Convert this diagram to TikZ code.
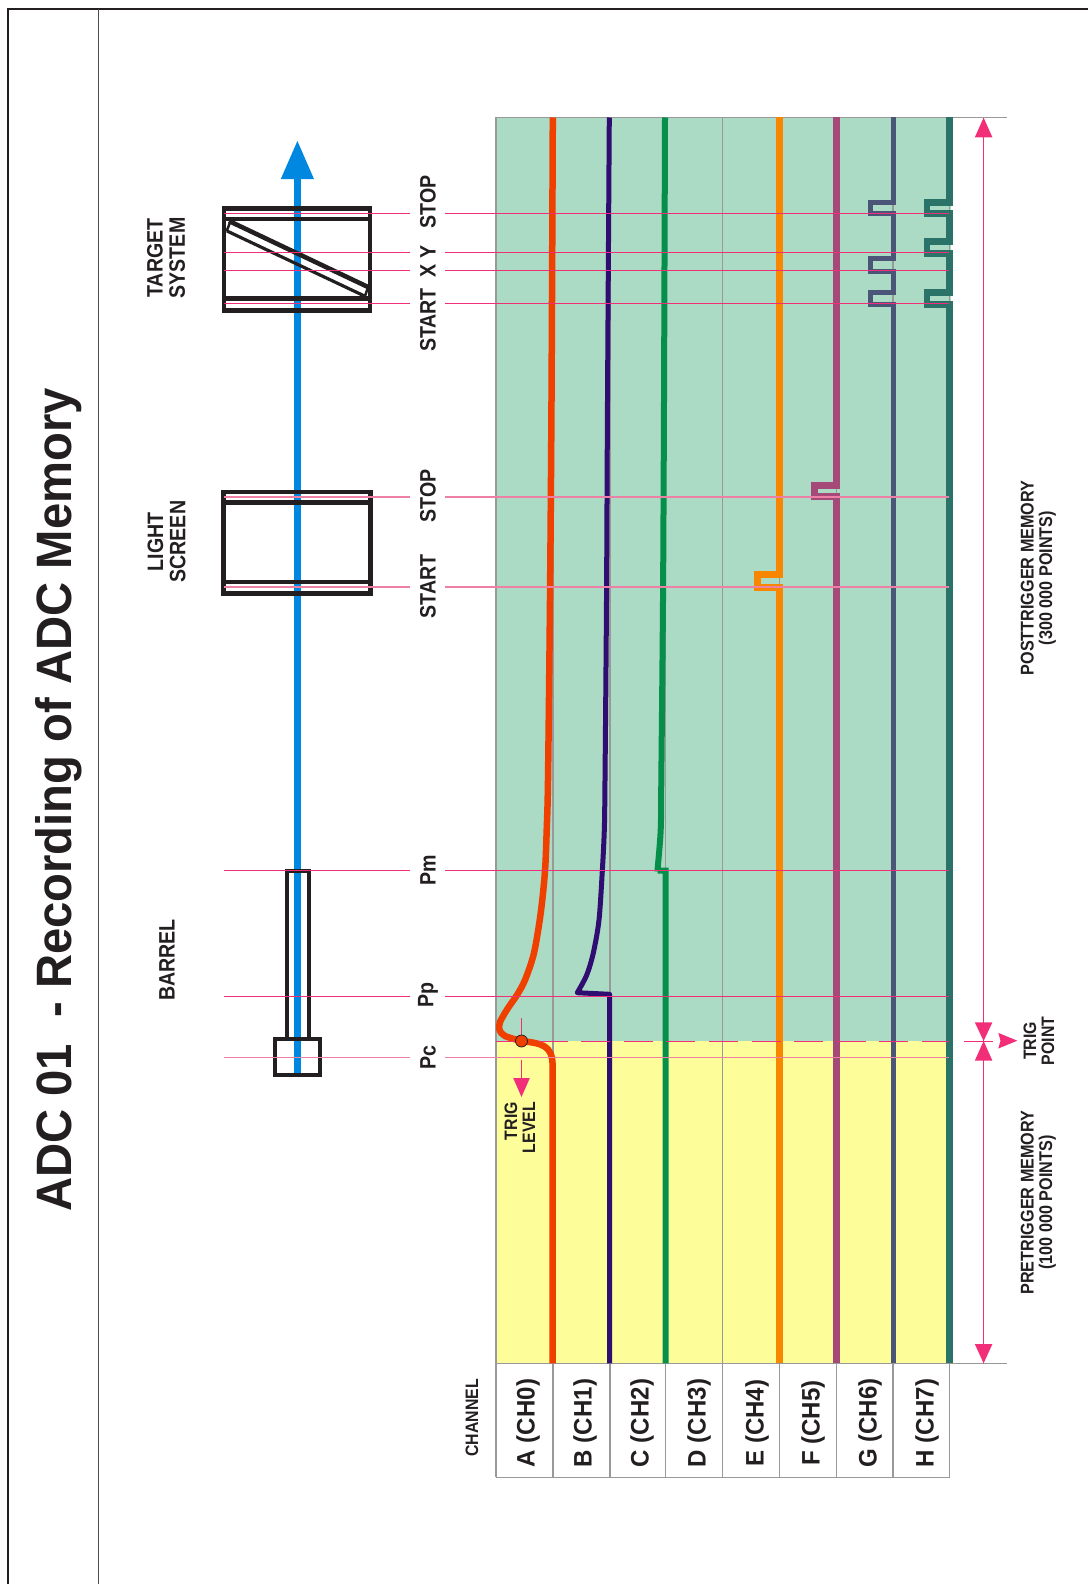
\documentclass[tikz,border=0pt]{standalone}
\usepackage{fontspec}
\setmainfont{Liberation Sans}[FakeStretch=0.88]
\newfontfamily\titlefont{Liberation Sans}[FakeStretch=0.95]
\newcommand{\fsz}[1]{\fontsize{#1}{#1}\selectfont\bfseries}
\definecolor{pnk}{HTML}{F22E78}
\definecolor{pnkl}{HTML}{EE7FA5}
\definecolor{grn}{HTML}{ABDAC5}
\definecolor{yel}{HTML}{FDFD99}
\definecolor{ink}{HTML}{231F20}
\definecolor{gridc}{HTML}{999999}
\definecolor{blu}{HTML}{0088E0}
\definecolor{cha}{HTML}{F04000}
\definecolor{chb}{HTML}{300D70}
\definecolor{chc}{HTML}{068F4B}
\definecolor{che}{HTML}{F98600}
\definecolor{chf}{HTML}{A54A78}
\definecolor{chg}{HTML}{4B5578}
\definecolor{chh}{HTML}{2B7269}
\tikzset{
  lab/.style={rotate=90,inner sep=0pt,text=ink,font=\fsz{22.3},align=center},
  small/.style={rotate=90,inner sep=0pt,text=ink,font=\fsz{18},align=center,text height=12pt,text depth=0pt},
  mem/.style={rotate=90,inner sep=0pt,text=ink,font=\fsz{18.4},align=center,text height=12pt,text depth=0pt},
  chn/.style={rotate=90,inner sep=0pt,text=ink,font=\titlefont\fsz{25.3}},
  box/.style={draw=ink,line width=4.6pt},
  barrel/.style={draw=ink,line width=4pt},
  gl/.style={draw=gridc,line width=1.2pt},
  pk/.style={draw=pnk,line width=1pt},
  pkl/.style={draw=pnkl,line width=1.2pt},
}
\begin{document}
\begin{tikzpicture}[x=1pt,y=-1pt]
\useasboundingbox (0,0) rectangle (1088,1584);
\fill[white] (0,0) rectangle (1088,1584);
% frame
\draw[ink,line width=2pt] (8,1584) -- (8,9.5) -- (1088,9.5);
\draw[ink!80,line width=1pt] (98.3,9.5) -- (98.3,1584);
% title
\node[lab,font=\titlefont\fsz{49.7}] (title) at (58.5,800) {ADC 01\ \ - Recording of ADC Memory};
% backgrounds
\fill[grn] (496,117.5) rectangle (950.5,1041);
\fill[yel] (496,1041) rectangle (950.5,1363.3);
% grid
\foreach \gx in {496,553,610,665.7,722.6,779.5,836.4,893,949.5}
  \draw[gl] (\gx,117.5) -- (\gx,1477.3);
\draw[gl] (496,117.5) -- (1007,117.5);
\draw[gl] (496,1363.3) -- (1007,1363.3);
\draw[gl] (496,1477.3) -- (949.5,1477.3);
% blue projectile path
\draw[blu,line width=7pt] (297.4,1072.7) -- (297.4,170);
\fill[blu] (297.4,141) -- (314,179) -- (280.8,179) -- cycle;
% target system
\draw[box] (224,208.7) rectangle (370,310.3);
\draw[box] (224,219) -- (370,219);
\draw[box] (224,298.3) -- (370,298.3);
\draw[ink,line width=4.6pt] (229,221) -- (368,287);
\draw[ink,line width=3.2pt] (227,231) -- (365.5,296.5);
\draw[ink,line width=2.5pt] (231,220) -- (226.5,231.5);
\draw[ink,line width=2.5pt] (368.5,286) -- (364.5,297.5);
% light screen
\draw[box] (223.7,492) rectangle (370.7,593.7);
\draw[box] (223.7,502.3) -- (370.7,502.3);
\draw[box] (223.7,582) -- (370.7,582);
% barrel
\draw[barrel] (286.5,1039) -- (286.5,871) -- (309.2,871) -- (309.2,1039);
\draw[barrel] (274.5,1039) rectangle (320,1075.2);
% channels
\draw[cha,line width=6.5pt,line join=round] plot[smooth,tension=0.5] coordinates {(552.8,117.5) (551.5,400) (550,600) (548,780) (546.7,830) (545,871) (540.7,913) (534,953) (525,980) (517,995) (508,1008) (500,1022) (499.5,1030) (505,1036) (521.5,1041)} .. controls (542,1043.5) and (552.6,1045) .. (552.6,1066) -- (552.6,1363.3);
\draw[chb,line width=5pt,line join=round] plot[smooth,tension=0.5] coordinates {(609.3,117.5) (607.5,400) (606.5,600) (605,780) (604.3,830) (602.3,871) (599,920) (593.3,953) (586.7,975) (577.3,992.7)} -- (609.6,994.3) -- (609.6,1363.3);
\draw[chc,line width=6pt,line join=miter] plot[smooth,tension=0.5] coordinates {(665,117.5) (664,400) (663,600) (661.3,780) (660.7,830) (657.7,868) (657.5,870.7)} -- (665.7,870.7) -- (665.7,1363.3);
\draw[che,line width=6.5pt,line join=miter] (779.5,117.5) -- (779.5,574.7) -- (757.5,574.7) -- (757.5,587.3) -- (779.5,587.3) -- (779.5,1363.3);
\draw[chf,line width=6.5pt,line join=miter] (836.7,117.5) -- (836.7,485.7) -- (814.5,485.7) -- (814.5,496.7) -- (836.7,496.7) -- (836.7,1363.3);
\draw[chg,line width=5pt,line join=miter] (893,117.5) -- (893,202.3) -- (870,202.3) -- (870,213.7) -- (893,213.7) -- (893,258.3) -- (870,258.3) -- (870,271) -- (893,271) -- (893,292.7) -- (870,292.7) -- (870,304.7) -- (893,304.7) -- (893,1363.3);
\draw[chh,line width=6.5pt,line join=miter] (949.3,117.5) -- (949.3,202.3) -- (926.8,202.3) -- (926.8,213.7) -- (949.3,213.7) -- (949.3,241.7) -- (926.8,241.7) -- (926.8,253.3) -- (949.3,253.3) -- (949.3,292.7) -- (926.8,292.7) -- (926.8,304.7) -- (949.3,304.7) -- (949.3,1363.3);
% pink event lines
\foreach \py in {213.7,252.7,270.7,303.7,870.3,996.3} {
  \draw[pk] (224,\py) -- (410,\py);
  \draw[pk] (445,\py) -- (949,\py);
}
\foreach \py in {497,587,1057.7} {
  \draw[pkl] (224,\py) -- (410,\py);
  \draw[pkl] (445,\py) -- (949,\py);
}
% trigger dashes
\draw[pnk,line width=1pt,dash pattern=on 29pt off 13.6pt] (496,1041) -- (949,1041);
% memory dimension arrows
\coordinate (ta) at (983.6,117.7);
\coordinate (tb) at (983.6,1041);
\coordinate (tc) at (983.6,1363.3);
\draw[pk,line width=1.2pt] (ta) -- (tb) -- (tc);
\fill[pnk] (ta) -- (992.4,137.3) -- (974.8,137.3) -- cycle;
\fill[pnk] (tc) -- (992.4,1344) -- (974.8,1344) -- cycle;
\fill[pnk] (tb) -- (992.4,1022.3) -- (974.8,1022.3) -- cycle;
\fill[pnk] (tb) -- (992.4,1060.7) -- (974.8,1060.7) -- cycle;
\draw[pk] (964,1041) -- (993,1041);
\fill[pnk] (1017.3,1040.7) -- (998.3,1032.9) -- (1000.5,1040.7) -- (998.3,1048.5) -- cycle;
% trig level
\draw[pk] (521.5,1018) -- (521.5,1041);
\draw[pk] (521.5,1060) -- (521.5,1085);
\fill[pnk] (521.5,1097) -- (529.8,1078) -- (513.2,1078) -- cycle;
\node[circle,fill=cha,draw=ink,line width=0.8pt,minimum size=12pt,inner sep=0pt] (dot) at (521.5,1041) {};
% labels
\node[lab] (ltarget) at (166,258) {TARGET\\[0pt]SYSTEM};
\node[lab] (llight) at (166.5,541.7) {LIGHT\\SCREEN};
\node[lab] (lbarrel) at (167,960) {BARREL};
\node[lab] (s1) at (428,202) {STOP};
\node[lab] (s2) at (428,261.5) {X Y};
\node[lab] (s3) at (428,320) {START};
\node[lab] (s4) at (428,496) {STOP};
\node[lab] (s5) at (428,586.5) {START};
\node[lab] (pm) at (428,870) {Pm};
\node[lab] (pp) at (428,995) {Pp};
\node[lab] (pc) at (428,1057.5) {Pc};
\node[small,align=right] (tl) at (529,1127.7) {TRIG\\LEVEL};
\node[small] (tp) at (1048,1041) {TRIG\\POINT};
\node[mem] (post) at (1046,578) {POSTTRIGGER MEMORY\\(300 000 POINTS)};
\node[mem] (pre) at (1046,1202.6) {PRETRIGGER MEMORY\\(100 000 POINTS)};
\node[small] (chan) at (472,1418) {CHANNEL};
\node[chn] (ca) at (528,1423) {A (CH0)};
\node[chn] (cb) at (585,1423) {B (CH1)};
\node[chn] (cc) at (642,1423) {C (CH2)};
\node[chn] (cd) at (699,1423) {D (CH3)};
\node[chn] (ce) at (757,1423) {E (CH4)};
\node[chn] (cf) at (813,1423) {F (CH5)};
\node[chn] (cg) at (870,1423) {G (CH6)};
\node[chn] (ch) at (927,1423) {H (CH7)};
\end{tikzpicture}
\end{document}
